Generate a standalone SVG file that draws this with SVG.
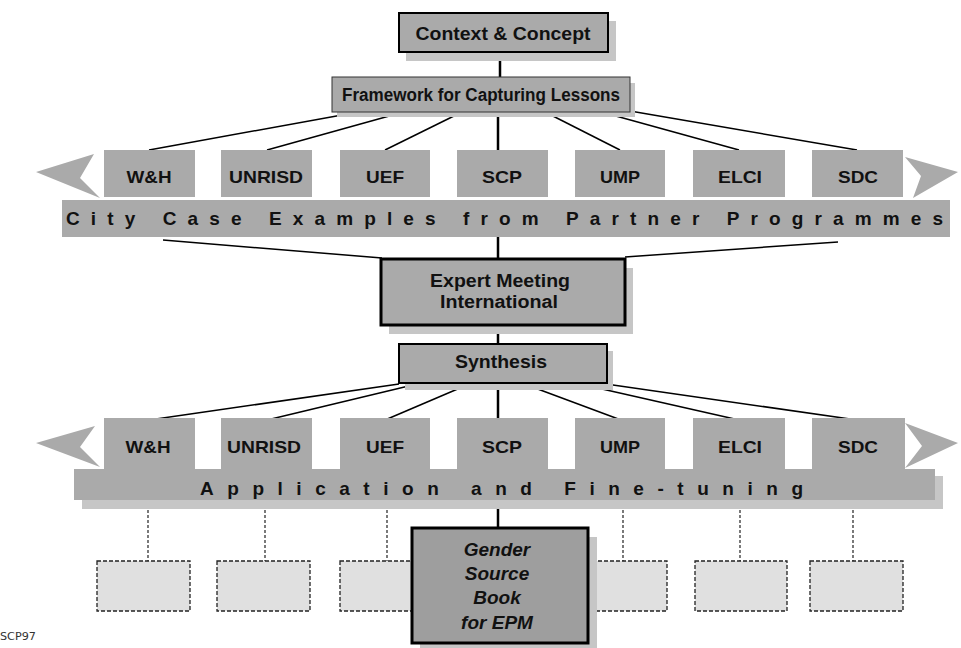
<svg xmlns="http://www.w3.org/2000/svg" width="961" height="648" viewBox="0 0 961 648">
<defs>
<style>
.fill{fill:#aaaaaa}
.shadow{fill:#c6c6c6}
.lbl{font-family:"Liberation Sans",Arial,sans-serif;font-weight:bold;fill:#111;text-anchor:middle}
.band{font-family:"Liberation Sans",Arial,sans-serif;font-weight:bold;fill:#111}
.ln{stroke:#000;stroke-width:1.5;fill:none}
.vl{stroke:#000;stroke-width:2.5;fill:none}
.dl{stroke:#222;stroke-width:1.2;stroke-dasharray:3 2;fill:none}
.ph{fill:#e0e0e0;stroke:#222;stroke-width:1.3;stroke-dasharray:4 2}
</style>
</defs>
<rect width="961" height="648" fill="#fff"/>

<g id="connectors">
<line class="vl" x1="500" y1="52" x2="500" y2="78"/>
<line class="ln" x1="353" y1="113" x2="149" y2="150"/>
<line class="ln" x1="400" y1="113" x2="267" y2="150"/>
<line class="ln" x1="460" y1="113" x2="385" y2="150"/>
<line class="vl" x1="498" y1="112" x2="498" y2="150"/>
<line class="ln" x1="547" y1="113" x2="620" y2="150"/>
<line class="ln" x1="605" y1="113" x2="739" y2="150"/>
<line class="ln" x1="630" y1="111" x2="857" y2="150"/>
<line class="vl" x1="498" y1="237" x2="498" y2="260"/>
<line class="ln" x1="163" y1="240" x2="382" y2="258"/>
<line class="ln" x1="838" y1="242" x2="625" y2="257"/>
<line class="vl" x1="498" y1="325" x2="498" y2="344"/>
<line class="ln" x1="399" y1="384" x2="149" y2="420"/>
<line class="ln" x1="417" y1="384" x2="267" y2="420"/>
<line class="ln" x1="467" y1="385" x2="385" y2="420"/>
<line class="vl" x1="498" y1="383" x2="498" y2="420"/>
<line class="ln" x1="527" y1="385" x2="621" y2="420"/>
<line class="ln" x1="580" y1="384" x2="739" y2="420"/>
<line class="ln" x1="606" y1="384" x2="857" y2="420"/>
<line class="vl" x1="498" y1="500" x2="498" y2="528"/>
<line class="dl" x1="148" y1="500" x2="148" y2="561"/>
<line class="dl" x1="265" y1="500" x2="265" y2="561"/>
<line class="dl" x1="387" y1="500" x2="387" y2="561"/>
<line class="dl" x1="623" y1="500" x2="623" y2="561"/>
<line class="dl" x1="740" y1="500" x2="740" y2="561"/>
<line class="dl" x1="853" y1="500" x2="853" y2="561"/>
</g>

<g id="context">
<rect class="shadow" x="406" y="21" width="210" height="40"/>
<rect class="fill" x="399" y="13" width="209" height="39" stroke="#000" stroke-width="2"/>
<text class="lbl" x="503" y="40" font-size="19" textLength="175" lengthAdjust="spacingAndGlyphs">Context &amp; Concept</text>
</g>

<g id="framework">
<rect class="shadow" x="337" y="83" width="298" height="34"/>
<rect class="fill" x="332" y="77" width="298" height="35" stroke="#333" stroke-width="1"/>
<text class="lbl" x="481" y="101" font-size="18" textLength="278" lengthAdjust="spacingAndGlyphs">Framework for Capturing Lessons</text>
</g>

<g id="row1-arrow-left"><polygon class="fill" points="36,172 94,154 80,178 100,198"/></g>
<g id="row1-arrow-right"><polygon class="fill" points="905,157 958,172 913,198 921,176"/></g>

<g id="row1-band">
<rect class="fill" x="62" y="200" width="888" height="37"/>
<text class="band" x="66" y="225" font-size="19" textLength="877" lengthAdjust="spacing">City Case Examples from Partner Programmes</text>
</g>

<g id="r1-wh"><rect class="fill" x="104" y="150" width="91" height="47"/><text class="lbl" x="149" y="183" font-size="17" textLength="45" lengthAdjust="spacingAndGlyphs">W&amp;H</text></g>
<g id="r1-unrisd"><rect class="fill" x="221" y="150" width="91" height="47"/><text class="lbl" x="266" y="183" font-size="17" textLength="74" lengthAdjust="spacingAndGlyphs">UNRISD</text></g>
<g id="r1-uef"><rect class="fill" x="340" y="150" width="90" height="47"/><text class="lbl" x="385" y="183" font-size="17" textLength="38" lengthAdjust="spacingAndGlyphs">UEF</text></g>
<g id="r1-scp"><rect class="fill" x="457" y="150" width="91" height="47"/><text class="lbl" x="502" y="183" font-size="17" textLength="40" lengthAdjust="spacingAndGlyphs">SCP</text></g>
<g id="r1-ump"><rect class="fill" x="575" y="150" width="90" height="47"/><text class="lbl" x="620" y="183" font-size="17" textLength="40" lengthAdjust="spacingAndGlyphs">UMP</text></g>
<g id="r1-elci"><rect class="fill" x="693" y="150" width="92" height="47"/><text class="lbl" x="740" y="183" font-size="17" textLength="44" lengthAdjust="spacingAndGlyphs">ELCI</text></g>
<g id="r1-sdc"><rect class="fill" x="812" y="150" width="91" height="47"/><text class="lbl" x="858" y="183" font-size="17" textLength="40" lengthAdjust="spacingAndGlyphs">SDC</text></g>

<g id="expert">
<rect class="shadow" x="389" y="268" width="244" height="66"/>
<rect class="fill" x="381" y="259" width="244" height="66" stroke="#000" stroke-width="3"/>
<text class="lbl" x="500" y="287" font-size="18" textLength="140" lengthAdjust="spacingAndGlyphs">Expert Meeting</text>
<text class="lbl" x="499" y="308" font-size="18" textLength="118" lengthAdjust="spacingAndGlyphs">International</text>
</g>

<g id="synthesis">
<rect class="shadow" x="405" y="351" width="208" height="39"/>
<rect class="fill" x="399" y="344" width="208" height="39" stroke="#000" stroke-width="2"/>
<text class="lbl" x="501" y="368" font-size="18" textLength="92" lengthAdjust="spacingAndGlyphs">Synthesis</text>
</g>

<g id="row2-arrow-left"><polygon class="fill" points="36,443 95,426 80,447 100,467"/></g>
<g id="row2-arrow-right"><polygon class="fill" points="905,423 958,443 905,468 922,446"/></g>

<g id="row2-band">
<rect class="shadow" x="82" y="476" width="861" height="33"/>
<rect class="fill" x="74" y="469" width="861" height="31"/>
<rect class="fill" x="104" y="418" width="91" height="52"/>
<rect class="fill" x="221" y="418" width="91" height="52"/>
<rect class="fill" x="340" y="418" width="90" height="52"/>
<rect class="fill" x="457" y="418" width="91" height="52"/>
<rect class="fill" x="575" y="418" width="90" height="52"/>
<rect class="fill" x="693" y="418" width="92" height="52"/>
<rect class="fill" x="812" y="418" width="93" height="52"/>
<text class="band" x="200" y="495" font-size="19" textLength="603" lengthAdjust="spacing">Application     and     Fine-tuning</text>
</g>

<g id="r2-wh"><text class="lbl" x="148" y="453" font-size="17" textLength="45" lengthAdjust="spacingAndGlyphs">W&amp;H</text></g>
<g id="r2-unrisd"><text class="lbl" x="264" y="453" font-size="17" textLength="74" lengthAdjust="spacingAndGlyphs">UNRISD</text></g>
<g id="r2-uef"><text class="lbl" x="385" y="453" font-size="17" textLength="38" lengthAdjust="spacingAndGlyphs">UEF</text></g>
<g id="r2-scp"><text class="lbl" x="502" y="453" font-size="17" textLength="40" lengthAdjust="spacingAndGlyphs">SCP</text></g>
<g id="r2-ump"><text class="lbl" x="620" y="453" font-size="17" textLength="40" lengthAdjust="spacingAndGlyphs">UMP</text></g>
<g id="r2-elci"><text class="lbl" x="740" y="453" font-size="17" textLength="44" lengthAdjust="spacingAndGlyphs">ELCI</text></g>
<g id="r2-sdc"><text class="lbl" x="858" y="453" font-size="17" textLength="40" lengthAdjust="spacingAndGlyphs">SDC</text></g>

<g id="placeholder-1"><rect class="ph" x="97" y="561" width="93" height="50"/></g>
<g id="placeholder-2"><rect class="ph" x="217" y="561" width="93" height="50"/></g>
<g id="placeholder-3"><rect class="ph" x="340" y="561" width="93" height="50"/></g>
<g id="placeholder-5"><rect class="ph" x="574" y="561" width="93" height="50"/></g>
<g id="placeholder-6"><rect class="ph" x="695" y="561" width="92" height="50"/></g>
<g id="placeholder-7"><rect class="ph" x="810" y="561" width="93" height="50"/></g>

<g id="gender">
<rect class="shadow" x="420" y="537" width="177" height="111"/>
<rect x="412" y="528" width="176" height="115" fill="#9e9e9e" stroke="#000" stroke-width="3"/>
<g class="lbl" font-size="19" font-style="italic">
<text x="497" y="556">Gender</text>
<text x="497" y="580">Source</text>
<text x="497" y="604">Book</text>
<text x="497" y="629">for EPM</text>
</g>
</g>

<text x="0" y="640" font-family="'DejaVu Sans',sans-serif" font-size="11" fill="#333" textLength="36" lengthAdjust="spacingAndGlyphs">SCP97</text>
</svg>
